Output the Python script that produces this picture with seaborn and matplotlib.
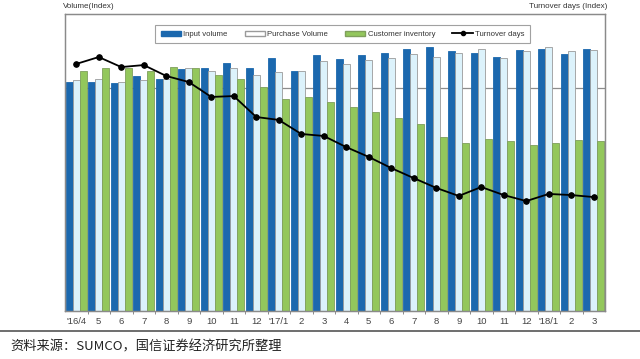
import numpy as np
import pandas as pd
import seaborn as sns
import matplotlib.pyplot as plt
from matplotlib.patches import Patch
from matplotlib.lines import Line2D

months = ["'16/4", "5", "6", "7", "8", "9", "10", "11", "12", "'17/1", "2", "3",
          "4", "5", "6", "7", "8", "9", "10", "11", "12", "'18/1", "2", "3"]

input_volume = [102.7, 102.7, 102.2, 105.4, 104.0, 108.5, 109.0, 111.2, 109.0, 113.5, 107.6, 114.8,
                113.0, 114.8, 115.7, 117.5, 118.4, 116.6, 115.7, 113.9, 117.0, 117.5, 115.2, 117.5]
purchase_volume = [103.6, 104.0, 102.7, 103.6, 104.0, 109.0, 107.6, 109.0, 105.8, 107.2, 107.6, 112.1,
                   110.8, 112.6, 113.5, 115.2, 113.9, 115.7, 117.5, 113.5, 116.6, 118.4, 116.6, 117.0]
customer_inventory = [107.6, 109.0, 109.0, 107.6, 109.4, 109.0, 105.8, 104.0, 100.4, 95.1, 96.0, 93.7,
                      91.5, 89.2, 86.5, 83.9, 78.0, 75.3, 77.1, 76.2, 74.4, 75.3, 76.7, 76.2]
turnover_days = [110.8, 113.9, 109.4, 110.3, 105.4, 102.7, 96.0, 96.4, 87.0, 85.7, 79.4, 78.5,
                 73.5, 69.1, 64.1, 59.6, 55.2, 51.6, 55.6, 52.0, 49.3, 52.5, 52.0, 51.1]

series_names = ["Input volume", "Purchase Volume", "Customer inventory"]
colors = {"Input volume": "#1b68ae", "Purchase Volume": "#dcf2fb", "Customer inventory": "#93c75c"}
edges = {"Input volume": "#1b68ae", "Purchase Volume": "#9a9a9a", "Customer inventory": "#7f9f5c"}

x_idx = list(range(len(months)))
df = pd.DataFrame({
    "pos": x_idx * 3,
    "value": input_volume + purchase_volume + customer_inventory,
    "series": [series_names[0]] * 24 + [series_names[1]] * 24 + [series_names[2]] * 24,
})

plt.rcParams['font.family'] = ['Liberation Sans', 'DejaVu Sans']

fig = plt.figure(figsize=(6.4, 3.59), dpi=100)
ax = fig.add_axes([65 / 640, 48 / 359, 540 / 640, 297 / 359])

sns.barplot(data=df, x="pos", y="value", hue="series", hue_order=series_names,
            palette=colors, width=0.92, dodge=True, ax=ax, legend=False, saturation=1)
for cont, name in zip(ax.containers, series_names):
    for bar in cont:
        bar.set_edgecolor(edges[name])
        bar.set_linewidth(0.6)

ax.set_ylim(0, 133.2)
ax.set_xlim(-0.5, len(months) - 0.5)
ax.axhline(100, color="#8c8c8c", lw=0.9, zorder=0.5)
ax.set_xlabel("")
ax.set_ylabel("")
ax.set_yticks([])
ax.set_xticks(x_idx)
ax.set_xticklabels(months, fontsize=6.8, color="#444444")
ax.tick_params(axis="x", which="major", length=0, pad=4)
ax.set_xticks(np.arange(0.5, len(months) - 0.5, 1), minor=True)
ax.tick_params(axis="x", which="minor", length=2, color="#777777")
for s in ax.spines.values():
    s.set_color("#8a8a8a")
    s.set_linewidth(0.9)

ax2 = ax.twinx()
sns.lineplot(x=x_idx, y=turnover_days, ax=ax2, color="black", marker="o",
             markersize=4, linewidth=1.3, markeredgecolor="black")
ax2.set_ylim(0, 133.2)
ax2.set_yticks([])
for s in ax2.spines.values():
    s.set_color("#8a8a8a")
    s.set_linewidth(0.9)

handles = [
    Patch(facecolor=colors["Input volume"], edgecolor=edges["Input volume"], label="Input volume"),
    Patch(facecolor="white", edgecolor=edges["Purchase Volume"], label="Purchase Volume"),
    Patch(facecolor=colors["Customer inventory"], edgecolor=edges["Customer inventory"], label="Customer inventory"),
    Line2D([0], [0], color="black", marker="o", markersize=3, lw=1.3, label="Turnover days"),
]
leg = ax2.legend(handles=handles, loc="upper center", bbox_to_anchor=(0.514, 0.975), ncol=4,
                 fontsize=5.6, frameon=True, fancybox=False, edgecolor="#8a8a8a",
                 handlelength=2.6, handleheight=0.6, handletextpad=0.3, columnspacing=2.2,
                 borderpad=0.7)
leg.get_frame().set_linewidth(0.8)
for t in leg.get_texts():
    t.set_color("#333333")

fig.text(63 / 640, 1 - 6 / 359, "Volume(Index)", fontsize=5.8, color="#333333", va="center")
fig.text(607 / 640, 1 - 6 / 359, "Turnover days (Index)", fontsize=5.8, color="#333333",
         va="center", ha="right")

fig.add_artist(Line2D([0, 1], [1 - 331 / 359] * 2, color="#555555", lw=1.2))
fig.text(10 / 640, 1 - 347 / 359, "资料来源：SUMCO，国信证券经济研究所整理", fontsize=9.5,
         color="#222222", va="center", family=["Noto Sans CJK SC", "DejaVu Sans"])

fig.savefig("out.png", dpi=100)
